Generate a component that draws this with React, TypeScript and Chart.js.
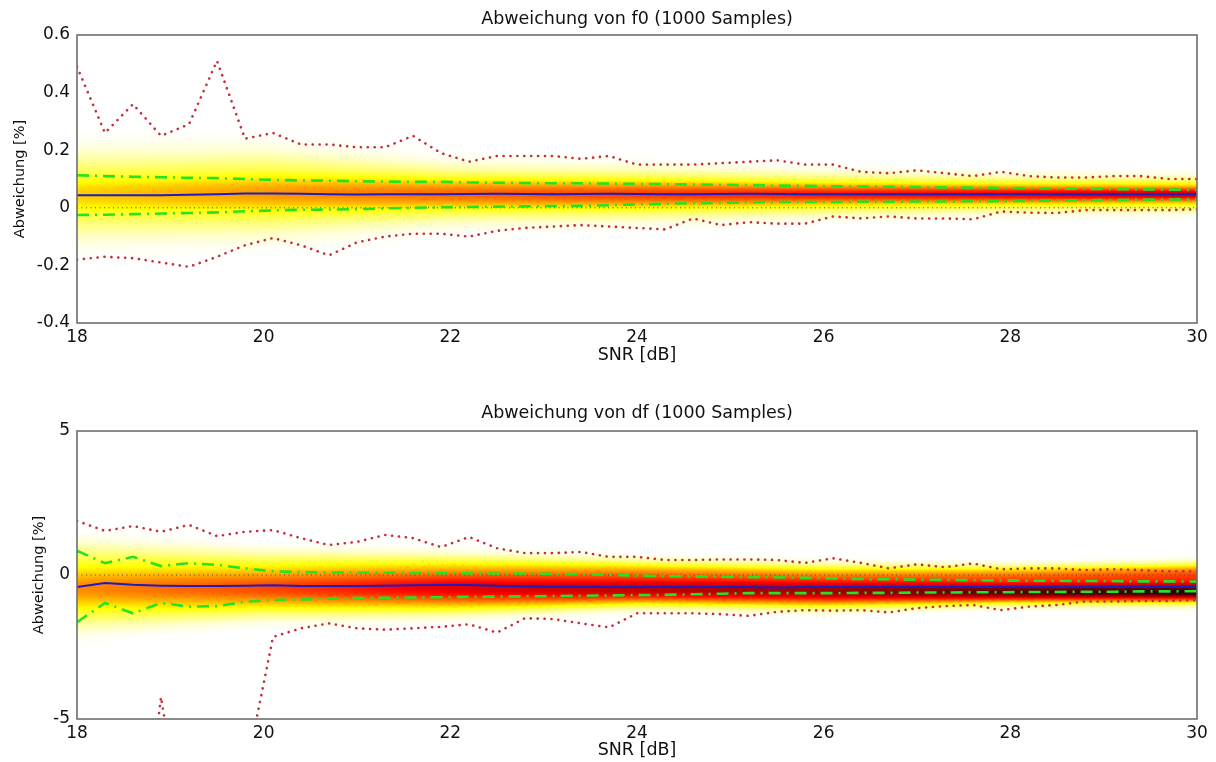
import React, { useEffect, useRef } from 'react';
import { Chart, registerables } from 'chart.js';

Chart.register(...registerables);

// ---------- data ----------
const snr = [18, 18.3, 18.6, 18.9, 19.2, 19.5, 19.8, 20.1, 20.4, 20.7, 21, 21.3, 21.6, 21.9, 22.2, 22.5, 22.8, 23.1, 23.4, 23.7, 24, 24.3, 24.6, 24.9, 25.2, 25.5, 25.8, 26.1, 26.4, 26.7, 27, 27.3, 27.6, 27.9, 28.2, 28.5, 28.8, 29.1, 29.4, 29.7, 30];

const f0Mean = [0.044, 0.044, 0.044, 0.044, 0.045, 0.047, 0.05, 0.05, 0.049, 0.047, 0.046, 0.047, 0.047, 0.047, 0.048, 0.049, 0.048, 0.047, 0.048, 0.049, 0.048, 0.047, 0.047, 0.048, 0.049, 0.048, 0.047, 0.047, 0.047, 0.047, 0.047, 0.047, 0.047, 0.048, 0.048, 0.047, 0.047, 0.047, 0.047, 0.047, 0.047];
const f0Upper = [0.113, 0.11, 0.108, 0.106, 0.104, 0.103, 0.1, 0.097, 0.095, 0.094, 0.092, 0.091, 0.09, 0.09, 0.088, 0.087, 0.086, 0.085, 0.085, 0.084, 0.083, 0.082, 0.081, 0.08, 0.079, 0.077, 0.076, 0.075, 0.074, 0.073, 0.072, 0.071, 0.07, 0.069, 0.068, 0.067, 0.066, 0.065, 0.064, 0.063, 0.062];
const f0Lower = [-0.025, -0.024, -0.022, -0.02, -0.018, -0.016, -0.012, -0.009, -0.007, -0.006, -0.005, -0.002, 0.0, 0.002, 0.003, 0.004, 0.005, 0.006, 0.007, 0.009, 0.012, 0.014, 0.016, 0.017, 0.019, 0.02, 0.02, 0.02, 0.021, 0.021, 0.022, 0.022, 0.023, 0.023, 0.024, 0.025, 0.026, 0.027, 0.028, 0.029, 0.03];
const f0Max = [0.49, 0.26, 0.36, 0.25, 0.29, 0.51, 0.24, 0.26, 0.22, 0.22, 0.21, 0.21, 0.25, 0.19, 0.16, 0.18, 0.18, 0.18, 0.17, 0.18, 0.15, 0.15, 0.15, 0.155, 0.16, 0.165, 0.15, 0.15, 0.125, 0.12, 0.13, 0.12, 0.11, 0.125, 0.11, 0.105, 0.105, 0.11, 0.11, 0.1, 0.1];
const f0Min = [-0.18, -0.17, -0.175, -0.19, -0.205, -0.17, -0.13, -0.105, -0.13, -0.165, -0.12, -0.1, -0.09, -0.09, -0.1, -0.08, -0.07, -0.065, -0.06, -0.065, -0.07, -0.075, -0.037, -0.06, -0.05, -0.055, -0.055, -0.03, -0.037, -0.03, -0.037, -0.037, -0.04, -0.013, -0.017, -0.018, -0.008, -0.008, -0.008, -0.008, -0.005];

const dfMean = [-0.42, -0.28, -0.34, -0.37, -0.38, -0.38, -0.37, -0.36, -0.38, -0.38, -0.38, -0.37, -0.36, -0.35, -0.35, -0.37, -0.4, -0.41, -0.41, -0.42, -0.42, -0.42, -0.42, -0.42, -0.42, -0.43, -0.42, -0.42, -0.42, -0.42, -0.42, -0.42, -0.42, -0.42, -0.42, -0.42, -0.42, -0.42, -0.42, -0.42, -0.42];
const dfUpper = [0.84, 0.41, 0.63, 0.31, 0.41, 0.35, 0.23, 0.13, 0.1, 0.09, 0.08, 0.08, 0.07, 0.06, 0.06, 0.05, 0.05, 0.04, 0.03, 0.01, -0.02, -0.04, -0.05, -0.06, -0.07, -0.08, -0.1, -0.12, -0.14, -0.15, -0.16, -0.17, -0.18, -0.19, -0.2, -0.2, -0.21, -0.21, -0.22, -0.22, -0.23];
const dfLower = [-1.64, -0.97, -1.33, -0.97, -1.1, -1.08, -0.93, -0.87, -0.85, -0.82, -0.8, -0.79, -0.78, -0.77, -0.76, -0.75, -0.74, -0.73, -0.72, -0.71, -0.7, -0.69, -0.67, -0.65, -0.63, -0.63, -0.63, -0.63, -0.62, -0.62, -0.61, -0.61, -0.6, -0.6, -0.59, -0.59, -0.58, -0.58, -0.57, -0.57, -0.56];
const dfMax = [1.88, 1.53, 1.7, 1.5, 1.74, 1.35, 1.5, 1.56, 1.28, 1.04, 1.15, 1.39, 1.28, 0.97, 1.32, 0.93, 0.76, 0.76, 0.8, 0.63, 0.63, 0.52, 0.52, 0.54, 0.54, 0.52, 0.42, 0.58, 0.42, 0.23, 0.37, 0.27, 0.4, 0.2, 0.23, 0.23, 0.17, 0.2, 0.17, 0.13, 0.13];
const dfMin = [-9, -10, -12.2, -4.24, -10.2, -11, -7, -2.15, -1.85, -1.68, -1.85, -1.9, -1.85, -1.8, -1.71, -2.0, -1.5, -1.53, -1.68, -1.82, -1.33, -1.33, -1.33, -1.36, -1.42, -1.28, -1.22, -1.24, -1.22, -1.3, -1.15, -1.08, -1.04, -1.22, -1.1, -1.04, -0.92, -0.92, -0.9, -0.9, -0.87];

const zeroX = [18, 30];
const zeroY = [0, 0];

// density (sample histogram) key columns
const densSnr = [18, 20, 22, 24, 26, 28, 30];
const f0WideCenter = [0.045, 0.05, 0.048, 0.047, 0.047, 0.047, 0.047];
const f0WideWidth = [0.11, 0.105, 0.072, 0.064, 0.052, 0.044, 0.042];
const f0WideAmp = [0.18, 0.2, 0.21, 0.23, 0.26, 0.28, 0.3];
const f0CoreCenter = [0.045, 0.05, 0.048, 0.047, 0.047, 0.047, 0.047];
const f0CoreWidth = [0.04, 0.04, 0.032, 0.028, 0.021, 0.018, 0.016];
const f0CoreAmp = [0.14, 0.2, 0.26, 0.3, 0.33, 0.36, 0.4];

const dfWideCenter = [-0.4, -0.35, -0.35, -0.3, -0.42, -0.36, -0.3];
const dfWideWidth = [1.18, 0.9, 0.8, 0.62, 0.6, 0.52, 0.56];
const dfWideAmp = [0.2, 0.24, 0.34, 0.42, 0.45, 0.5, 0.55];
const dfCoreCenter = [-0.45, -0.45, -0.45, -0.5, -0.55, -0.6, -0.6];
const dfCoreWidth = [0.45, 0.4, 0.36, 0.3, 0.25, 0.2, 0.18];
const dfCoreAmp = [0.22, 0.28, 0.32, 0.3, 0.32, 0.38, 0.42];

const xTicks = [18, 20, 22, 24, 26, 28, 30];
const f0Ticks = [-0.4, -0.2, 0, 0.2, 0.4, 0.6];
const dfTicks = [-5, 0, 5];

const title1 = 'Abweichung von f0 (1000 Samples)';
const title2 = 'Abweichung von df (1000 Samples)';
const xLabel = 'SNR [dB]';
const yLabel = 'Abweichung [%]';

// ---------- helpers ----------
const FONT = "'DejaVu Sans', sans-serif";

function revHot(t: number): [number, number, number] {
  const s = 1 - Math.min(1, Math.max(0, t));
  const r = Math.min(1, s / 0.375);
  const g = Math.min(1, Math.max(0, (s - 0.375) / 0.375));
  const b = Math.min(1, Math.max(0, (s - 0.75) / 0.25));
  return [r * 255, g * 255, b * 255];
}

function lerp(xs: number[], vs: number[], x: number) {
  if (x <= xs[0]) return vs[0];
  if (x >= xs[xs.length - 1]) return vs[vs.length - 1];
  for (let i = 0; i < xs.length - 1; i++) {
    if (x >= xs[i] && x <= xs[i + 1]) {
      const f = (x - xs[i]) / (xs[i + 1] - xs[i]);
      return vs[i] + f * (vs[i + 1] - vs[i]);
    }
  }
  return vs[vs.length - 1];
}

type Dens = { wc: number[]; ww: number[]; wa: number[]; cc: number[]; cw: number[]; ca: number[]; p: number };

function makeDensityPlugin(d: Dens) {
  return {
    id: 'density',
    beforeDatasetsDraw(chart: any) {
      const { ctx, chartArea: a, scales } = chart;
      const xs = scales.x, ys = scales.y;
      const W = Math.round(a.right - a.left), H = Math.round(a.bottom - a.top);
      const off = document.createElement('canvas');
      off.width = W; off.height = H;
      const octx = off.getContext('2d')!;
      const img = octx.createImageData(W, H);
      const yv = new Float64Array(H);
      for (let py = 0; py < H; py++) yv[py] = ys.getValueForPixel(a.top + py + 0.5);
      for (let px = 0; px < W; px++) {
        const xv = xs.getValueForPixel(a.left + px + 0.5);
        const wc = lerp(densSnr, d.wc, xv), ww = lerp(densSnr, d.ww, xv), wa = lerp(densSnr, d.wa, xv);
        const cc = lerp(densSnr, d.cc, xv), cw = lerp(densSnr, d.cw, xv), ca = lerp(densSnr, d.ca, xv);
        for (let py = 0; py < H; py++) {
          const dw = Math.abs(yv[py] - wc) / ww;
          const dc = (yv[py] - cc) / cw;
          const t = wa * Math.exp(-0.5 * Math.pow(dw, d.p)) + ca * Math.exp(-0.5 * dc * dc);
          const [r, g, b] = revHot(t);
          const k = (py * W + px) * 4;
          img.data[k] = r; img.data[k + 1] = g; img.data[k + 2] = b; img.data[k + 3] = 255;
        }
      }
      octx.putImageData(img, 0, 0);
      ctx.save();
      ctx.drawImage(off, a.left, a.top);
      ctx.restore();
    },
  };
}

const framePlugin = {
  id: 'frame',
  afterDatasetsDraw(chart: any) {
    const { ctx, chartArea: a } = chart;
    ctx.save();
    ctx.strokeStyle = '#6e6e6e';
    ctx.lineWidth = 1.6;
    ctx.strokeRect(a.left, a.top, a.right - a.left, a.bottom - a.top);
    ctx.restore();
  },
};

const pts = (xs: number[], ys: number[]) => xs.map((x, i) => ({ x, y: ys[i] }));
const fmt = (v: number) => String(Math.round(v * 10) / 10);

function makeConfig(o: any) {
  const line = (data: number[], color: string, width: number, dash: number[], cap = 'butt') => ({
    data: pts(snr, data), borderColor: color, borderWidth: width, borderDash: dash,
    borderCapStyle: cap, pointRadius: 0, fill: false, tension: 0,
  });
  return {
    type: 'line',
    data: {
      datasets: [
        line(o.mean, '#1c1cc0', 2, []),
        line(o.upper, '#26e226', 2.6, [12, 6, 2, 6]),
        line(o.lower, '#26e226', 2.6, [12, 6, 2, 6]),
        line(o.max, '#c52f3c', 2.6, [0.1, 6.8], 'round'),
        line(o.min, '#c52f3c', 2.6, [0.1, 6.8], 'round'),
        { data: pts(zeroX, zeroY), borderColor: '#444', borderWidth: 1, borderDash: [1, 3.5], pointRadius: 0, fill: false },
      ],
    },
    options: {
      responsive: false,
      animation: false,
      devicePixelRatio: 1,
      layout: { padding: { left: 0, right: 19, top: 0, bottom: 0 } },
      plugins: {
        legend: { display: false },
        tooltip: { enabled: false },
        title: {
          display: true, text: o.title, fullSize: false, color: '#111',
          font: { family: FONT, size: 17.5, weight: 'normal', lineHeight: 1.2 },
          padding: o.titlePad,
        },
      },
      scales: {
        x: {
          type: 'linear', min: 18, max: 30,
          afterBuildTicks: (s: any) => { s.ticks = xTicks.map((v) => ({ value: v })); },
          afterFit: (s: any) => { s.height = o.xHeight; },
          ticks: { color: '#111', font: { family: FONT, size: 17 }, padding: 4, maxRotation: 0, autoSkip: false },
          grid: { display: false, drawTicks: false },
          border: { display: false },
          title: { display: true, text: xLabel, color: '#111', font: { family: FONT, size: 17.5, lineHeight: 1.2 }, padding: { top: 0, bottom: o.xTitlePad } },
        },
        y: {
          type: 'linear', min: o.yMin, max: o.yMax,
          afterBuildTicks: (s: any) => { s.ticks = o.yTicks.map((v: number) => ({ value: v })); },
          afterFit: (s: any) => { s.width = 77; },
          ticks: { color: '#111', font: { family: FONT, size: 17 }, padding: 7, callback: (v: number) => fmt(v) },
          grid: { display: false, drawTicks: false },
          border: { display: false },
          title: { display: true, text: yLabel, color: '#111', font: { family: FONT, size: 14.5, lineHeight: 1.2 }, padding: { top: o.yTitlePad, bottom: 0 } },
        },
      },
    },
    plugins: [makeDensityPlugin(o.dens), framePlugin],
  };
}

export default function App() {
  const ref1 = useRef<HTMLCanvasElement>(null);
  const ref2 = useRef<HTMLCanvasElement>(null);
  useEffect(() => {
    const c1 = new Chart(ref1.current as any, makeConfig({
      title: title1, titlePad: { top: 8.5, bottom: 5.5 }, xHeight: 57, xTitlePad: 14.5, yTitlePad: 11.3,
      yMin: -0.4, yMax: 0.6, yTicks: f0Ticks,
      mean: f0Mean, upper: f0Upper, lower: f0Lower, max: f0Max, min: f0Min,
      dens: { wc: f0WideCenter, ww: f0WideWidth, wa: f0WideAmp, cc: f0CoreCenter, cw: f0CoreWidth, ca: f0CoreAmp, p: 3 },
    }) as any);
    const c2 = new Chart(ref2.current as any, makeConfig({
      title: title2, titlePad: { top: 22.5, bottom: 7.5 }, xHeight: 43, xTitlePad: 1.5, yTitlePad: 30.3,
      yMin: -5, yMax: 5, yTicks: dfTicks,
      mean: dfMean, upper: dfUpper, lower: dfLower, max: dfMax, min: dfMin,
      dens: { wc: dfWideCenter, ww: dfWideWidth, wa: dfWideAmp, cc: dfCoreCenter, cw: dfCoreWidth, ca: dfCoreAmp, p: 4 },
    }) as any);
    return () => { c1.destroy(); c2.destroy(); };
  }, []);
  return (
    <div style={{ position: 'absolute', left: 0, top: 0, width: 1216, height: 762, background: '#fff' }}>
      <canvas ref={ref1} width={1216} height={380} style={{ position: 'absolute', left: 0, top: 0 }} />
      <canvas ref={ref2} width={1216} height={382} style={{ position: 'absolute', left: 0, top: 380 }} />
    </div>
  );
}
